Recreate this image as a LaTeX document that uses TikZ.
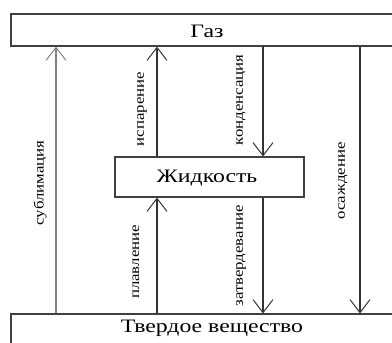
\documentclass[tikz,border=0pt]{standalone}
\usepackage{fontspec}
\setmainfont{Liberation Serif}
\usetikzlibrary{arrows.meta}
\newcommand{\bigtxt}[1]{\fontsize{19}{19}\selectfont\scalebox{1.25}[1]{#1}}
\newcommand{\smtxt}[1]{\fontsize{14}{14}\selectfont\scalebox{1.2}[1]{#1}}
\begin{document}
\begin{tikzpicture}[x=1pt,y=-1pt,
  box/.style={draw=black!75, line width=1.2pt, inner sep=0pt, fill=white, rectangle},
  flow/.style={line width=1.3pt, draw=black!80, -{Straight Barb[length=13pt,width=20pt,line width=1pt]}},
  lab/.style={rotate=90, inner sep=0pt}]
\useasboundingbox (0,0) rectangle (392,343);
\clip (0,0) rectangle (392,343);
\node[box, minimum width=392pt, minimum height=32pt] (gas) at (207,30) {};
\node (gastxt) at (207,31) {\bigtxt{Газ}};
\node[box, minimum width=402pt, minimum height=34pt] (solid) at (212,331) {};
\node (solidtxt) at (212,328) {\bigtxt{Твердое вещество}};
\node[box, minimum width=189pt, minimum height=40pt] (liq) at (209.5,177) {};
\node (liqtxt) at (207,178) {\bigtxt{Жидкость}};
\coordinate (xa) at (56,0);
\coordinate (xb) at (157,0);
\coordinate (xc) at (263,0);
\coordinate (xd) at (360,0);
\draw[flow, draw=black!50, line width=1.8pt] (solid.north -| xa) -- (gas.south -| xa);
\draw[flow] (liq.north -| xb) -- (gas.south -| xb);
\draw[flow] (solid.north -| xb) -- (liq.south -| xb);
\draw[flow] (gas.south -| xc) -- (liq.north -| xc);
\draw[flow] (liq.south -| xc) -- (solid.north -| xc);
\draw[flow] (gas.south -| xd) -- (solid.north -| xd);
\node[lab] (l1) at (40,183) {\smtxt{сублимация}};
\node[lab] (l2) at (142,109) {\smtxt{испарение}};
\node[lab] (l3) at (241,100) {\smtxt{конденсация}};
\node[lab] (l4) at (343,181) {\smtxt{осаждение}};
\node[lab] (l5) at (136,262) {\smtxt{плавление}};
\node[lab] (l6) at (241,256) {\smtxt{затвердевание}};
\end{tikzpicture}
\end{document}
